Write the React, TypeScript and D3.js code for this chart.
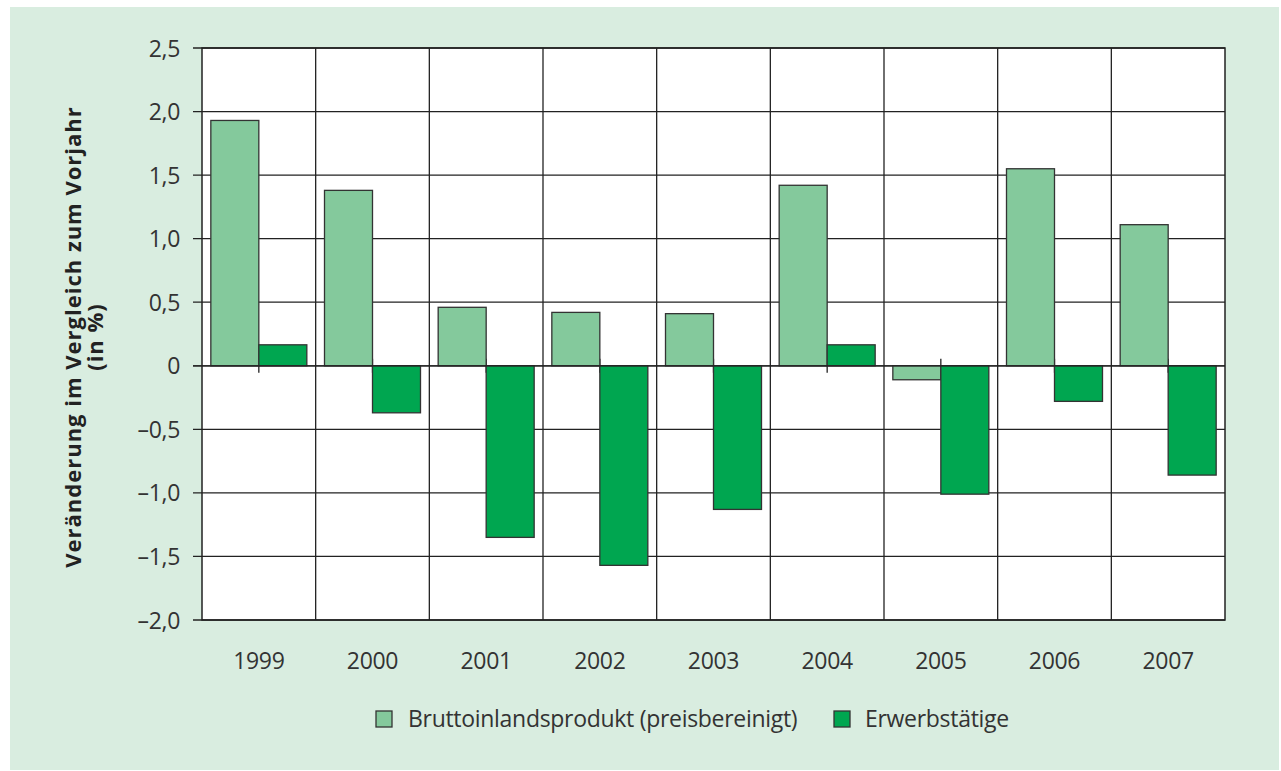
import { useEffect, useRef } from 'react';
import * as d3 from 'd3';

const years = ['1999', '2000', '2001', '2002', '2003', '2004', '2005', '2006', '2007'];
const bip = [1.93, 1.38, 0.46, 0.42, 0.41, 1.42, -0.11, 1.55, 1.11];
const erwerb = [0.165, -0.37, -1.35, -1.57, -1.13, 0.165, -1.01, -0.28, -0.86];
const yTicks = [2.5, 2.0, 1.5, 1.0, 0.5, 0, -0.5, -1.0, -1.5, -2.0];
const seriesNames = ['Bruttoinlandsprodukt (preisbereinigt)', 'Erwerbstätige'];
const seriesColors = ['#84c99c', '#00a650'];

const fmt = (v: number) => (v === 0 ? '0' : (v < 0 ? '–' : '') + Math.abs(v).toFixed(1).replace('.', ','));

const App = () => {
  const svgRef = useRef<SVGSVGElement>(null);

  useEffect(() => {
    const svg = d3.select(svgRef.current);
    svg.selectAll('*').remove();

    const W = 1281;
    const H = 771;
    const plot = { left: 202, right: 1225, top: 48, bottom: 620 };
    const font = 'Open Sans, Liberation Sans, sans-serif';
    const textColor = '#333333';

    // panel background
    svg.append('rect').attr('width', W).attr('height', H).attr('fill', '#ffffff');
    svg
      .append('rect')
      .attr('x', 10)
      .attr('y', 7)
      .attr('width', 1269)
      .attr('height', 763)
      .attr('fill', '#d9ede0');

    const x = d3.scaleBand().domain(years).range([plot.left, plot.right]);
    const y = d3.scaleLinear().domain([-2, 2.5]).range([plot.bottom, plot.top]);

    svg
      .append('rect')
      .attr('x', plot.left)
      .attr('y', plot.top)
      .attr('width', plot.right - plot.left)
      .attr('height', plot.bottom - plot.top)
      .attr('fill', '#ffffff');

    // horizontal grid lines
    svg
      .append('g')
      .selectAll('line')
      .data(yTicks)
      .enter()
      .append('line')
      .attr('x1', plot.left - 9)
      .attr('x2', plot.right)
      .attr('y1', (d) => y(d))
      .attr('y2', (d) => y(d))
      .attr('stroke', '#222')
      .attr('stroke-width', 1.3);

    // vertical dividers
    svg
      .append('g')
      .selectAll('line')
      .data(years.slice(1))
      .enter()
      .append('line')
      .attr('x1', (d) => x(d)!)
      .attr('x2', (d) => x(d)!)
      .attr('y1', plot.top)
      .attr('y2', plot.bottom)
      .attr('stroke', '#222')
      .attr('stroke-width', 1.3);

    // y tick labels
    svg
      .append('g')
      .selectAll('text')
      .data(yTicks)
      .enter()
      .append('text')
      .attr('x', 180)
      .attr('y', (d) => y(d) + 8.5)
      .attr('text-anchor', 'end')
      .attr('font-family', font)
      .attr('font-size', 23)
      .attr('letter-spacing', -0.3)
      .attr('fill', textColor)
      .text((d) => fmt(d));

    // category ticks at zero line
    svg
      .append('g')
      .selectAll('line')
      .data(years)
      .enter()
      .append('line')
      .attr('x1', (d) => x(d)! + x.bandwidth() / 2)
      .attr('x2', (d) => x(d)! + x.bandwidth() / 2)
      .attr('y1', y(0) - 7)
      .attr('y2', y(0) + 7)
      .attr('stroke', '#222')
      .attr('stroke-width', 1.3);

    // bars
    const barW = 48;
    const drawBars = (vals: number[], idx: number) => {
      svg
        .append('g')
        .selectAll('rect')
        .data(vals)
        .enter()
        .append('rect')
        .attr('x', (d, i) => x(years[i])! + x.bandwidth() / 2 - barW + idx * barW)
        .attr('y', (d) => y(Math.max(0, d)))
        .attr('width', barW)
        .attr('height', (d) => Math.abs(y(d) - y(0)))
        .attr('fill', seriesColors[idx])
        .attr('stroke', '#333')
        .attr('stroke-width', 1.3);
    };
    drawBars(bip, 0);
    drawBars(erwerb, 1);

    // zero line on top
    svg
      .append('line')
      .attr('x1', plot.left - 9)
      .attr('x2', plot.right)
      .attr('y1', y(0))
      .attr('y2', y(0))
      .attr('stroke', '#222')
      .attr('stroke-width', 1.3);

    // plot frame
    svg
      .append('rect')
      .attr('x', plot.left)
      .attr('y', plot.top)
      .attr('width', plot.right - plot.left)
      .attr('height', plot.bottom - plot.top)
      .attr('fill', 'none')
      .attr('stroke', '#222')
      .attr('stroke-width', 1.5);

    // x labels
    svg
      .append('g')
      .selectAll('text')
      .data(years)
      .enter()
      .append('text')
      .attr('x', (d) => x(d)! + x.bandwidth() / 2)
      .attr('y', 669)
      .attr('text-anchor', 'middle')
      .attr('font-family', font)
      .attr('font-size', 23)
      .attr('letter-spacing', -0.3)
      .attr('fill', textColor)
      .text((d) => d);

    // y axis title
    const yTitle = svg
      .append('text')
      .attr('transform', 'translate(81,337) rotate(-90)')
      .attr('text-anchor', 'middle')
      .attr('font-family', font)
      .attr('font-size', 22)
      .attr('letter-spacing', 1)
      .attr('font-weight', 'bold')
      .attr('fill', '#222');
    yTitle.append('tspan').attr('x', 0).attr('dy', 0).text('Veränderung im Vergleich zum Vorjahr');
    yTitle.append('tspan').attr('x', 0).attr('dy', 22).text('(in %)');

    // legend
    const legendItems = [
      { name: seriesNames[0], color: seriesColors[0], x: 376, tx: 408 },
      { name: seriesNames[1], color: seriesColors[1], x: 834, tx: 865 },
    ];
    const lg = svg.append('g');
    legendItems.forEach((it) => {
      lg.append('rect')
        .attr('x', it.x)
        .attr('y', 711)
        .attr('width', 16)
        .attr('height', 16)
        .attr('fill', it.color)
        .attr('stroke', '#333')
        .attr('stroke-width', 1.3);
      lg.append('text')
        .attr('x', it.tx)
        .attr('y', 727)
        .attr('font-family', font)
        .attr('font-size', 23)
        .attr('letter-spacing', -0.3)
        .attr('fill', textColor)
        .text(it.name);
    });
  }, []);

  return <svg ref={svgRef} width={1281} height={771} style={{ display: 'block', position: 'absolute', left: 0, top: 0 }} />;
};

export default App;
